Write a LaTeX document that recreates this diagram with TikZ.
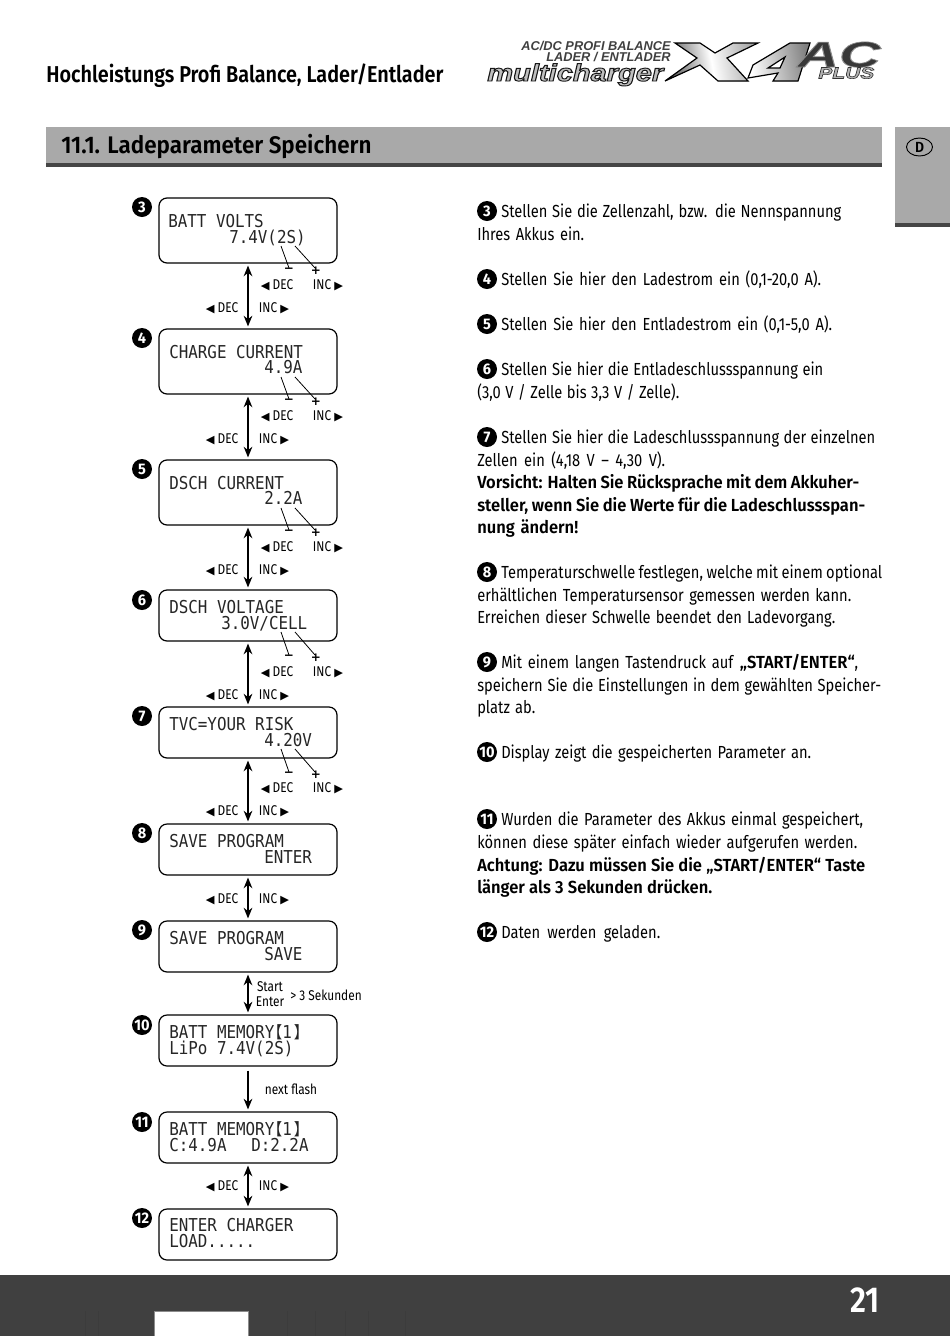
\documentclass[tikz,border=0pt]{standalone}
\usepackage{fontspec}
\usetikzlibrary{arrows.meta,shapes.geometric}
\setmainfont{Fira Sans}[FakeStretch=0.84,BoldFont={Fira Sans SemiBold},BoldFeatures={FakeStretch=0.945}]
\newfontfamily\titlefont{Fira Sans SemiBold}[FakeStretch=0.865]
\newfontfamily\sectfont{Fira Sans SemiBold}[FakeStretch=0.935]
\newfontfamily\dotfont{Fira Sans}[FakeStretch=0.95]
\newfontfamily\lcdfont{DejaVu Sans Mono}
\newfontfamily\symfont{DejaVu Sans}
\newfontfamily\logofont{Liberation Sans}
\newfontfamily\cjkfont{Noto Sans CJK SC}
\definecolor{band}{HTML}{A9A9A9}
\definecolor{darkbar}{HTML}{454545}
\definecolor{foot}{HTML}{404040}
\definecolor{footline}{HTML}{3C3C3C}
\newcommand{\bodysize}{\fontsize{13.1pt}{16pt}\selectfont}
\newcommand{\Lft}{{\symfont\fontsize{8.5pt}{9pt}\selectfont ◀}}
\newcommand{\Rgt}{{\symfont\fontsize{8.5pt}{9pt}\selectfont ▶}}
\newcommand{\LB}{\kern-5pt{\cjkfont\fontsize{11pt}{11pt}\selectfont 【}}
\newcommand{\RB}{\kern1.5pt{\cjkfont\fontsize{11pt}{11pt}\selectfont 】}}
\newcommand{\strokeon}[3]{\special{pdf:literal direct 2 Tr #1 w #2 G #3 g}}
\newcommand{\strokeoff}{\special{pdf:literal direct 0 Tr}}
\tikzset{
  x=0.75pt,y=-0.75pt,
  lcdbox/.style={draw=black,line width=0.9pt,rounded corners=6pt,minimum width=133.5pt,inner sep=0pt,fill=white},
  lcdline/.style={anchor=base west,inner sep=0pt,text=black!85,font=\lcdfont\fontsize{11.9pt}{12pt}\selectfont,yscale=1.12},
  numdot/.style={circle,fill=black,text=white,minimum size=15pt,inner sep=0pt,font=\dotfont\bfseries\fontsize{11.5pt}{11pt}\selectfont},
  bodyline/.style={anchor=base west,inner sep=0pt,font=\bodysize},
  keylabel/.style={inner sep=0pt,font=\fontsize{10.6pt}{11pt}\selectfont},
  updown/.style={line width=1.1pt,{Stealth[length=8pt,width=6.5pt]}-{Stealth[length=8pt,width=6.5pt]},shorten <=1.5pt,shorten >=1.5pt},
  oneway/.style={line width=1.1pt,-{Stealth[length=8pt,width=6.5pt]},shorten <=3pt,shorten >=1.5pt},
  leader/.style={line width=0.6pt},
  sign/.style={inner sep=0pt,font=\symfont\bfseries\fontsize{9pt}{9pt}\selectfont},
  logotext/.style={inner sep=0pt,font=\logofont\bfseries\itshape\fontsize{9.6pt}{9pt}\selectfont,text=black!75},
}
\newcommand{\lcd}[3]{% name, top, bottom
  \node[lcdbox,minimum height={(#3-#2)*0.75pt}] (#1) at (248,{(#2+#3)/2}) {};
}
\begin{document}
\begin{tikzpicture}
\useasboundingbox (0,0) rectangle (950,1336);
\fill[white] (0,0) rectangle (950,1336);
% header
\node[anchor=base west,inner sep=0pt,font=\titlefont\fontsize{17.2pt}{20pt}\selectfont] (title) at (46,82) {Hochleistungs Profi Balance, Lader/Entlader};
\fill[band] (46,127) rectangle (882,163);
\fill[darkbar] (46,163) rectangle (882,167);
\node[anchor=base west,inner sep=0pt,font=\sectfont\fontsize{18pt}{20pt}\selectfont] (sect) at (61,153) {11.1. Ladeparameter Speichern};
\fill[band] (895,127) rectangle (950,223);
\fill[darkbar] (895,223) rectangle (950,227);
\node[ellipse,draw=black,line width=0.7pt,minimum width=19.5pt,minimum height=13.5pt,inner sep=0pt,font=\bfseries\fontsize{11pt}{11pt}\selectfont] (dmark) at (919.5,147) {D};
% footer
\fill[foot] (0,1275) rectangle (950,1336);
\foreach \x in {85,98,287,315,345,368,405}
  \draw[footline,line width=0.4pt] (\x,1311) -- (\x,1336);
\filldraw[fill=white,draw=black!45,line width=0.5pt] (154,1311) rectangle (248,1337);
\node[text=white,inner sep=0pt,font=\titlefont\fontsize{27pt}{27pt}\selectfont] (pg) at (865,1300) {21};
% logo
\node[anchor=base east,logotext] (l1) at (671,50) {AC/DC PROFI BALANCE};
\node[anchor=base east,logotext] (l2) at (671,61) {LADER / ENTLADER};
\node[anchor=base west,inner sep=0pt,xscale=1.21,font=\logofont\bfseries\itshape\fontsize{18pt}{18pt}\selectfont] (l3) at (487,81) {\strokeon{0.7}{0.1}{0.75}multicharger\strokeoff};
\filldraw[draw=black,line width=0.9pt,shade,left color=black!65,right color=black!35,middle color=white,shading angle=100]
  (675,43) -- (700,43) -- (715,53) -- (733,43) -- (758,43) -- (727,58) -- (748,81) -- (718,81) -- (700,65) -- (665,81) -- (697,58) -- cycle;
\filldraw[draw=black,line width=0.9pt,even odd rule,shade,left color=white,right color=black!50,shading angle=100]
  (810,43) -- (798,81) -- (773,81) -- (778,73) -- (748,78) -- (753,65) -- (790,43) -- cycle
  (785,57) -- (768,68) -- (780,68) -- cycle;
\node[anchor=base west,inner sep=0pt,xscale=1.6,font=\logofont\bfseries\itshape\fontsize{27pt}{27pt}\selectfont] (l4) at (797,67) {\strokeon{0.5}{0.55}{0.22}AC\strokeoff};
\node[anchor=base west,inner sep=0pt,xscale=1.31,font=\logofont\bfseries\itshape\fontsize{12pt}{12pt}\selectfont] (l5) at (818,78.5) {\strokeon{0.4}{0.2}{0.7}PLUS\strokeoff};
% boxes
\lcd{b3}{198}{263}
\lcd{b4}{329}{394}
\lcd{b5}{460}{525}
\lcd{b6}{590}{641}
\lcd{b7}{707}{758}
\lcd{b8}{824}{875}
\lcd{b9}{921}{972}
\lcd{b10}{1015}{1066}
\lcd{b11}{1112}{1163}
\lcd{b12}{1209}{1260}
% numbered dots
\foreach \n/\y in {3/207,4/338,5/469,6/600,7/716,8/833,9/930,10/1025,11/1122,12/1218}
  \node[numdot] (n\n) at (142,\y) {\n};
% lcd text
\node[lcdline] (t3a) at (168,227) {BATT VOLTS};
\node[lcdline] (t3b) at (229,243) {7.4V(2S)};
\node[lcdline] (t4a) at (169,358) {CHARGE CURRENT};
\node[lcdline] (t4b) at (264,373) {4.9A};
\node[lcdline] (t5a) at (169,489) {DSCH CURRENT};
\node[lcdline] (t5b) at (264,504) {2.2A};
\node[lcdline] (t6a) at (169,613) {DSCH VOLTAGE};
\node[lcdline] (t6b) at (221,629) {3.0V/CELL};
\node[lcdline] (t7a) at (169,730) {TVC=YOUR RISK};
\node[lcdline] (t7b) at (264,746) {4.20V};
\node[lcdline] (t8a) at (169,847) {SAVE PROGRAM};
\node[lcdline] (t8b) at (264,863) {ENTER};
\node[lcdline] (t9a) at (169,944) {SAVE PROGRAM};
\node[lcdline] (t9b) at (264,960) {SAVE};
\node[lcdline] (t10a) at (169,1038) {BATT MEMORY\LB 1\RB};
\node[lcdline] (t10b) at (169,1054) {LiPo 7.4V(2S)};
\node[lcdline] (t11a) at (169,1135) {BATT MEMORY\LB 1\RB};
\node[lcdline] (t11b) at (169,1151) {C:4.9A};
\node[lcdline] (t11c) at (251,1151) {D:2.2A};
\node[lcdline] (t12a) at (169,1231) {ENTER CHARGER};
\node[lcdline] (t12b) at (169,1247) {LOAD.....};
% arrows
\draw[updown] (b3) -- (b4);
\draw[updown] (b4) -- (b5);
\draw[updown] (b5) -- (b6);
\draw[updown] (b6) -- (b7);
\draw[updown] (b7) -- (b8);
\draw[updown] (b8) -- (b9);
\draw[updown] (b9) -- (b10);
\draw[oneway] (b10) -- (b11);
\draw[updown] (b11) -- (b12);
% leaders and key labels
\foreach \b/\sy/\ey/\ra/\rb in {3/246/268/285/308,4/377/399/416/439,5/508/530/547/570,6/632/655/672/695,7/749/772/788/811}{
  \coordinate (m\b a) at (281,\sy); \coordinate (m\b b) at (289,\ey);
  \coordinate (p\b a) at (295,\sy); \coordinate (p\b b) at (315,\ey);
  \draw[leader] (m\b a) -- (m\b b);
  \draw[leader] (p\b a) -- (p\b b);
  \node[sign] (ms\b) at (289,{\ey+2}) {−};
  \node[sign] (ps\b) at (316,{\ey+3}) {+};
  \node[keylabel] (da\b) at (277,\ra) {\Lft\ DEC};
  \node[keylabel] (ia\b) at (328,\ra) {INC \Rgt};
  \node[keylabel] (db\b) at (222,\rb) {\Lft\ DEC};
  \node[keylabel] (ib\b) at (274,\rb) {INC \Rgt};
}
\foreach \y/\nm in {899/e,1186/f}{
  \node[keylabel] (db\nm) at (222,\y) {\Lft\ DEC};
  \node[keylabel] (ib\nm) at (274,\y) {INC \Rgt};
}
\node[keylabel] (st) at (270,987) {Start};
\node[keylabel] (en) at (270,1002) {Enter};
\node[keylabel] (sek) at (326,995) {> 3 Sekunden};
\node[keylabel] (nf) at (291,1089) {next flash};
% body text: #3 = right end of the line in reference pixels
\newcommand{\fitbox}[3]{\hbox to \dimexpr\numexpr#2-#1\relax pt*3/4\relax{#3}}
\newcommand{\bl}[4]{\node[numdot] (d#1) at (487,#2) {#1}; \node[bodyline] (x#1) at (501,#2+6) {\fitbox{501}{#3}{#4}};}
\newcommand{\pl}[4]{\node[bodyline] (#1) at (477,#2) {\fitbox{477}{#3}{#4}};}
\hbadness=10000 \hfuzz=20pt
\bl{3}{211}{841}{Stellen Sie die Zellenzahl, bzw. die Nennspannung}
\pl{y3}{240}{584}{Ihres Akkus ein.}
\bl{4}{279}{821}{Stellen Sie hier den Ladestrom ein (0,1-20,0 A).}
\bl{5}{324}{832}{Stellen Sie hier den Entladestrom ein (0,1-5,0 A).}
\bl{6}{369}{823}{Stellen Sie hier die Entladeschlussspannung ein}
\pl{y6}{398}{679}{(3,0 V / Zelle bis 3,3 V / Zelle).}
\bl{7}{437}{875}{Stellen Sie hier die Ladeschlussspannung der einzelnen}
\pl{y7a}{466}{665}{Zellen ein (4,18 V – 4,30 V).}
\pl{y7b}{488}{859}{\bfseries Vorsicht: Halten Sie Rücksprache mit dem Akkuher-}
\pl{y7c}{511}{865}{\bfseries steller, wenn Sie die Werte für die Ladeschlussspan-}
\pl{y7d}{533}{578}{\bfseries nung ändern!}
\bl{8}{572}{882}{Temperaturschwelle festlegen, welche mit einem optional}
\pl{y8a}{601}{851}{erhältlichen Temperatursensor gemessen werden kann.}
\pl{y8b}{623}{835}{Erreichen dieser Schwelle beendet den Ladevorgang.}
\bl{9}{662}{858}{Mit einem langen Tastendruck auf \textbf{„START/ENTER“},}
\pl{y9a}{691}{881}{speichern Sie die Einstellungen in dem gewählten Speicher-}
\pl{y9b}{713}{535}{platz ab.}
\bl{10}{752}{811}{Display zeigt die gespeicherten Parameter an.}
\bl{11}{819}{863}{Wurden die Parameter des Akkus einmal gespeichert,}
\pl{y11a}{848}{857}{können diese später einfach wieder aufgerufen werden.}
\pl{y11b}{871}{865}{\bfseries Achtung: Dazu müssen Sie die „START/ENTER“ Taste}
\pl{y11c}{893}{712}{\bfseries länger als 3 Sekunden drücken.}
\bl{12}{932}{660}{Daten werden geladen.}
\end{tikzpicture}
\end{document}
